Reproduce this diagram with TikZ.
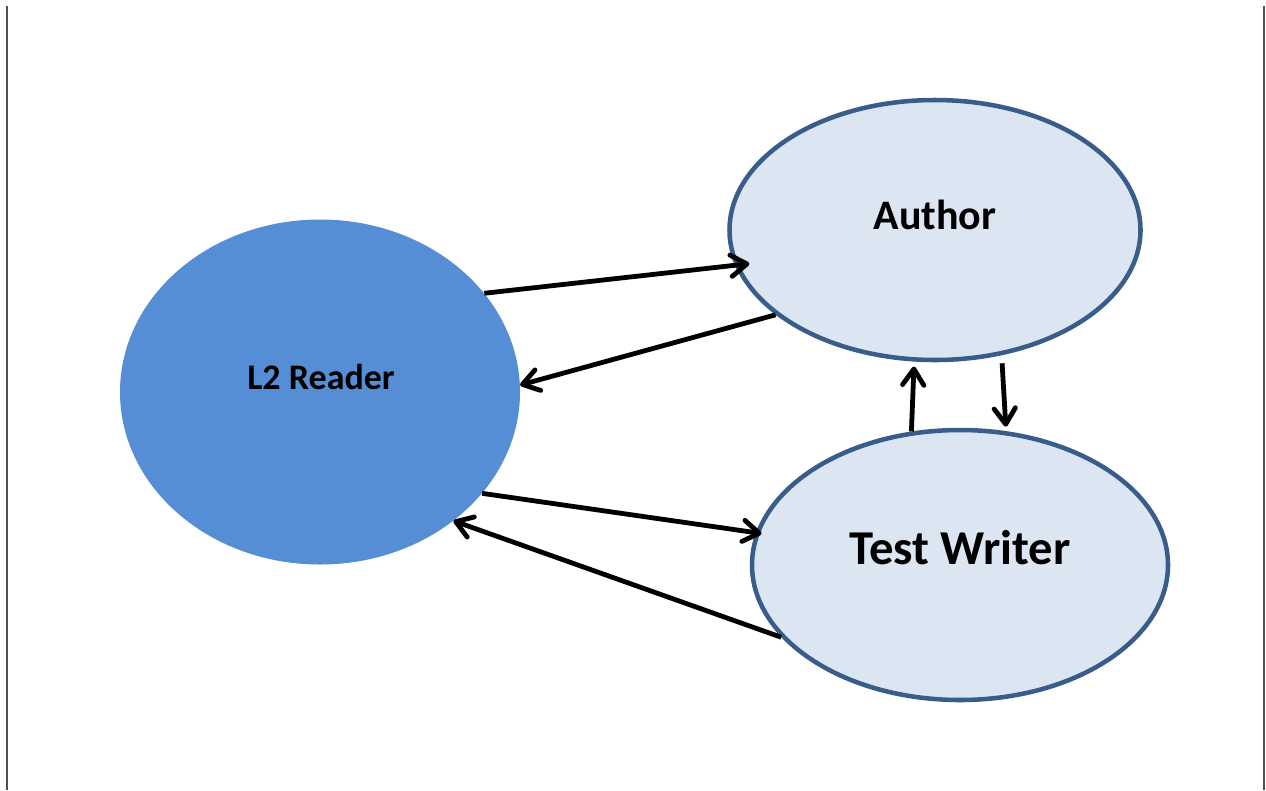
\documentclass[tikz,border=0pt]{standalone}
\usepackage{fontspec}
\setmainfont{Carlito}
\usetikzlibrary{shapes.geometric,arrows.meta}

\definecolor{readerblue}{RGB}{85,142,213}
\definecolor{paleblue}{RGB}{220,230,242}
\definecolor{edgeblue}{RGB}{56,93,138}

\tikzset{
  bubble/.style={ellipse,fill=paleblue,draw=edgeblue,line width=3.4pt,inner sep=0pt},
  readerbubble/.style={ellipse,fill=readerblue,inner sep=0pt},
  link/.style={line width=3.6pt,-{Straight Barb[length=12pt,width=16pt,round]}},
  sideline/.style={color={rgb, 255:red, 80; green, 80; blue, 80},line width=1.5pt}
}

\begin{document}
\begin{tikzpicture}[x=0.75pt,y=0.75pt,yscale=-1,xscale=1]
\useasboundingbox (0,0) rectangle (1266,790);

%Straight Lines (page edges)
\draw [sideline] (6.5,6) -- (6.5,790);
\draw [sideline] (1264,6) -- (1264,790);

%Shape: Ellipses
\node [readerbubble,minimum width=300pt,minimum height=258.75pt] (reader) at (320,392) {};
\node [bubble,minimum width=308.25pt,minimum height=195pt] (author) at (935,230) {};
\node [bubble,minimum width=312pt,minimum height=202.5pt] (writer) at (960,565) {};

%Straight Lines
\draw [link,shorten >=-11pt] (reader.31) -- (author.190);
\draw [link] (author.208) -- (reader.2);
\draw [link,shorten >=-4.5pt] (reader.-32) -- (writer.171);
\draw [link] (writer.202) -- (reader.-44);
\draw [link,shorten >=3.75pt] (writer.110) -- (author.261);
\draw [link,shorten <=6pt,shorten >=3.3pt] (author.-62) -- (writer.71);

% Text Node
\draw (321,377) node (readertext) [font=\fontsize{27}{32}\selectfont\bfseries] {L2 Reader};
% Text Node
\draw (935,215) node (authortext) [font=\fontsize{31.5}{38}\selectfont\bfseries] {Author};
% Text Node
\draw (960,548) node (writertext) [font=\fontsize{36.5}{44}\selectfont\bfseries] {Test Writer};

\end{tikzpicture}
\end{document}
